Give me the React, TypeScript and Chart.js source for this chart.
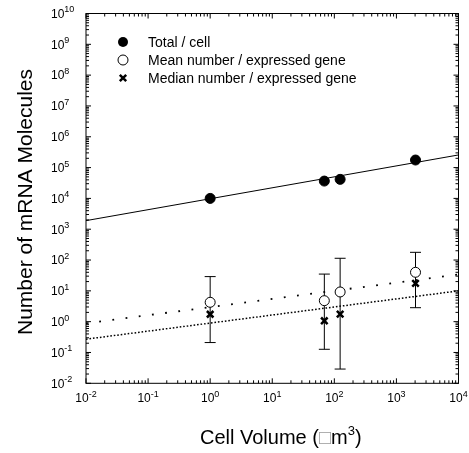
import { useEffect, useRef } from 'react';
import { Chart, registerables } from 'chart.js';

Chart.register(...registerables);

// ---- data ----
const cellVolume = [1, 69, 124, 2030];
const totalPerCell = [10000, 36500, 41500, 176000];
const meanPerGene = [4.25, 4.8, 9.2, 40];
const meanErrLow = [0.21, 0.127, 0.029, 2.84];
const meanErrHigh = [29, 35, 114, 178];
const medianPerGene = [1.74, 1.07, 1.77, 17.6];
const fitX = [0.01, 10000];
const totalFit = [1900, 257000];
const meanFit = [0.88, 34];
const medianFit = [0.27, 10];
const xTickExps = [-2, -1, 0, 1, 2, 3, 4];
const yTickExps = [-2, -1, 0, 1, 2, 3, 4, 5, 6, 7, 8, 9, 10];
const legendLabels = ['Total / cell', 'Mean number / expressed gene', 'Median number / expressed gene'];
const xTitle = ['Cell Volume (', '\u25A1', 'm', '3', ')'];
const yTitle = 'Number of mRNA Molecules';

const FONT = '"Liberation Sans", Arial, sans-serif';

const decoPlugin = {
  id: 'deco',
  beforeDatasetsDraw(chart: any) {
    const ctx = chart.ctx;
    const xs = chart.scales.x;
    const ys = chart.scales.y;
    ctx.save();
    ctx.strokeStyle = '#000';
    ctx.lineWidth = 1;
    cellVolume.forEach((v, i) => {
      const x = xs.getPixelForValue(v);
      const y1 = ys.getPixelForValue(meanErrLow[i]);
      const y2 = ys.getPixelForValue(meanErrHigh[i]);
      ctx.beginPath();
      ctx.moveTo(x, y1);
      ctx.lineTo(x, y2);
      ctx.moveTo(x - 5.5, y1);
      ctx.lineTo(x + 5.5, y1);
      ctx.moveTo(x - 5.5, y2);
      ctx.lineTo(x + 5.5, y2);
      ctx.stroke();
    });
    ctx.restore();
  },
  afterDraw(chart: any) {
    const ctx = chart.ctx;
    const xs = chart.scales.x;
    const ys = chart.scales.y;
    const a = chart.chartArea;
    ctx.save();
    ctx.strokeStyle = '#000';
    ctx.lineWidth = 1;
    // frame
    ctx.strokeRect(a.left, a.top, a.right - a.left, a.bottom - a.top);
    // ticks
    ctx.beginPath();
    const tick = (x: number, major: boolean) => {
      const L = major ? 5 : 3;
      ctx.moveTo(x, a.bottom);
      ctx.lineTo(x, a.bottom - L);
      ctx.moveTo(x, a.top);
      ctx.lineTo(x, a.top + L);
    };
    const tickY = (y: number, major: boolean) => {
      const L = major ? 5 : 3;
      ctx.moveTo(a.left, y);
      ctx.lineTo(a.left + L, y);
      ctx.moveTo(a.right, y);
      ctx.lineTo(a.right - L, y);
    };
    xTickExps.forEach((e, i) => {
      tick(xs.getPixelForValue(Math.pow(10, e)), true);
      if (i < xTickExps.length - 1) {
        for (let m = 2; m <= 9; m++) tick(xs.getPixelForValue(m * Math.pow(10, e)), false);
      }
    });
    yTickExps.forEach((e, i) => {
      tickY(ys.getPixelForValue(Math.pow(10, e)), true);
      if (i < yTickExps.length - 1) {
        for (let m = 2; m <= 9; m++) tickY(ys.getPixelForValue(m * Math.pow(10, e)), false);
      }
    });
    ctx.stroke();

    // tick labels
    ctx.fillStyle = '#000';
    ctx.textBaseline = 'middle';
    ctx.textAlign = 'left';
    const baseFont = '12px ' + FONT;
    const supFont = '9px ' + FONT;
    yTickExps.forEach((e) => {
      const y = ys.getPixelForValue(Math.pow(10, e));
      ctx.font = baseFont;
      ctx.fillText('10', 51, y + 1);
      const w = ctx.measureText('10').width;
      ctx.font = supFont;
      ctx.fillText(String(e), 51 + w, y - 3.5);
    });
    xTickExps.forEach((e) => {
      const x = xs.getPixelForValue(Math.pow(10, e));
      ctx.font = baseFont;
      const w1 = ctx.measureText('10').width;
      ctx.font = supFont;
      const w2 = ctx.measureText(String(e)).width;
      const x0 = x - (w1 + w2) / 2;
      ctx.font = baseFont;
      ctx.fillText('10', x0, 399);
      ctx.font = supFont;
      ctx.fillText(String(e), x0 + w1, 394.5);
    });

    // x title
    const tFont = '20px ' + FONT;
    ctx.font = tFont;
    let tx = 200;
    const ty = 438;
    ctx.fillText(xTitle[0], tx, ty);
    tx += ctx.measureText(xTitle[0]).width;
    ctx.fillStyle = '#999';
    ctx.fillText(xTitle[1], tx, ty);
    tx += ctx.measureText(xTitle[1]).width;
    ctx.fillStyle = '#000';
    ctx.fillText(xTitle[2], tx, ty);
    tx += ctx.measureText(xTitle[2]).width;
    ctx.font = '13px ' + FONT;
    ctx.fillText(xTitle[3], tx, ty - 7);
    tx += ctx.measureText(xTitle[3]).width;
    ctx.font = tFont;
    ctx.fillText(xTitle[4], tx, ty);

    // y title
    ctx.save();
    ctx.translate(26, 202);
    ctx.rotate(-Math.PI / 2);
    ctx.textAlign = 'center';
    ctx.font = '21px ' + FONT;
    ctx.fillText(yTitle, 0, 0);
    ctx.restore();

    // legend
    const lx = 123;
    const rows = [42, 60, 78];
    ctx.font = '14px ' + FONT;
    ctx.textAlign = 'left';
    legendLabels.forEach((t, i) => ctx.fillText(t, 148, rows[i] + 1));
    ctx.beginPath();
    ctx.arc(lx, rows[0], 5, 0, Math.PI * 2);
    ctx.fill();
    ctx.beginPath();
    ctx.fillStyle = '#fff';
    ctx.arc(lx, rows[1], 5, 0, Math.PI * 2);
    ctx.fill();
    ctx.stroke();
    ctx.lineWidth = 2.5;
    ctx.beginPath();
    ctx.moveTo(lx - 3.2, rows[2] - 3.2);
    ctx.lineTo(lx + 3.2, rows[2] + 3.2);
    ctx.moveTo(lx + 3.2, rows[2] - 3.2);
    ctx.lineTo(lx - 3.2, rows[2] + 3.2);
    ctx.stroke();
    ctx.restore();
  },
};

export default function App() {
  const ref = useRef<HTMLCanvasElement>(null);
  useEffect(() => {
    if (!ref.current) return;
    const pts = (xv: number[], yv: number[]) => xv.map((x, i) => ({ x, y: yv[i] }));
    const chart = new Chart(ref.current, {
      type: 'scatter',
      data: {
        datasets: [
          {
            label: legendLabels[0],
            data: pts(cellVolume, totalPerCell),
            pointStyle: 'circle',
            pointRadius: 5,
            backgroundColor: '#000',
            borderColor: '#000',
            borderWidth: 1,
            order: 1,
          },
          {
            label: legendLabels[1],
            data: pts(cellVolume, meanPerGene),
            pointStyle: 'circle',
            pointRadius: 5,
            backgroundColor: '#fff',
            borderColor: '#000',
            borderWidth: 1,
            order: 1,
          },
          {
            label: legendLabels[2],
            data: pts(cellVolume, medianPerGene),
            pointStyle: 'crossRot',
            pointRadius: 4.6,
            borderColor: '#000',
            borderWidth: 2.5,
            order: 1,
          },
          {
            label: 'fit total',
            data: pts(fitX, totalFit),
            showLine: true,
            pointRadius: 0,
            borderColor: '#000',
            borderWidth: 1,
            order: 2,
          },
          {
            label: 'fit mean',
            data: pts(fitX, meanFit),
            showLine: true,
            pointRadius: 0,
            borderColor: '#000',
            borderWidth: 1.8,
            borderDash: [1.8, 11.5],
            order: 2,
          },
          {
            label: 'fit median',
            data: pts(fitX, medianFit),
            showLine: true,
            pointRadius: 0,
            borderColor: '#000',
            borderWidth: 1.5,
            borderDash: [1.6, 1.9],
            order: 2,
          },
        ],
      } as any,
      options: {
        animation: false,
        responsive: false,
        layout: { padding: { left: 86, right: 10.5, top: 13.5, bottom: 69.7 } },
        scales: {
          x: { type: 'logarithmic', min: 0.01, max: 10000, display: false },
          y: { type: 'logarithmic', min: 0.01, max: 1e10, display: false },
        },
        plugins: { legend: { display: false }, tooltip: { enabled: false } },
      } as any,
      plugins: [decoPlugin],
    });
    return () => chart.destroy();
  }, []);
  return (
    <div style={{ position: 'absolute', left: 0, top: 0, width: 469, height: 453, background: '#fff' }}>
      <canvas ref={ref} width={469} height={453} />
    </div>
  );
}
